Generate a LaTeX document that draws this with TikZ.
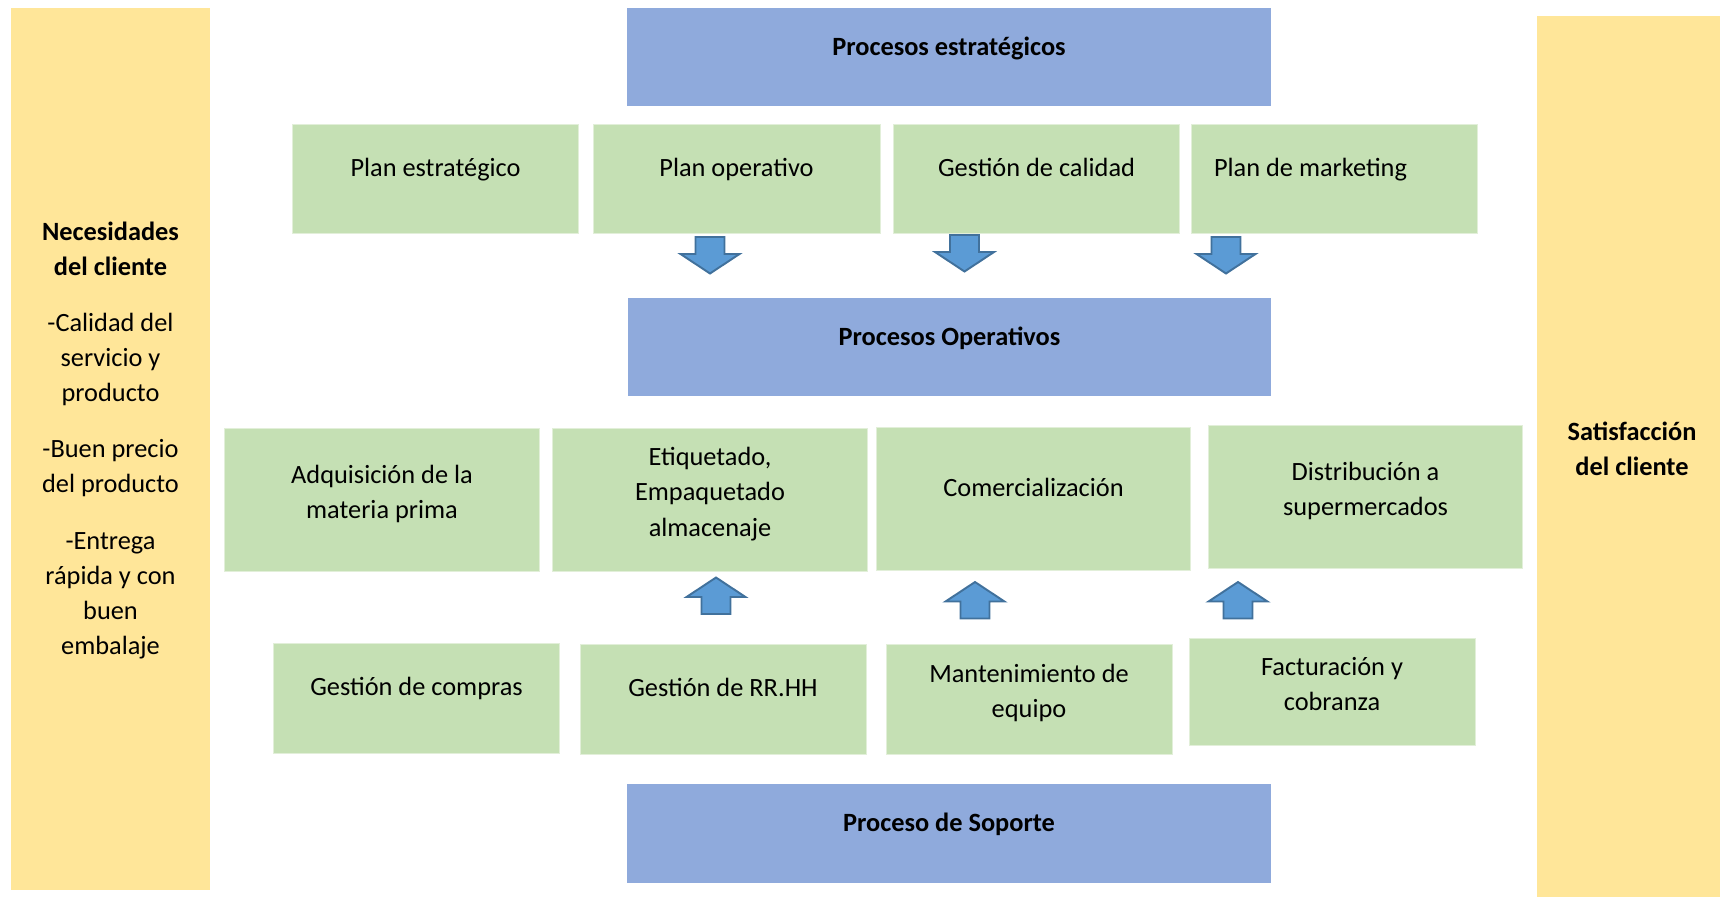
\documentclass[tikz,border=0pt]{standalone}
\usepackage{fontspec}
\setmainfont{Carlito}
\usepackage{xcolor}
\definecolor{StageBlue}{RGB}{143, 170, 220}
\definecolor{TaskGreen}{RGB}{197, 224, 180}
\definecolor{SideYellow}{RGB}{255, 230, 153}
\definecolor{ArrowFill}{RGB}{91, 155, 213}
\definecolor{ArrowEdge}{RGB}{65, 113, 156}
\usepackage{tikz}
\newcommand{\sinkdepth}{0.45cm}
\newcommand{\wdstrut}{\rule[-\sinkdepth]{0pt}{\sinkdepth}}

\begin{document}
\begin{tikzpicture}[
        x=0.02cm, y=-0.02cm,
        sink/.code={\def\sinkdepth{#1}},
        base/.style={rectangle, inner sep=0pt, align=center, font=\fontsize{15}{20}\selectfont, execute at end node=\wdstrut},
        stage/.style={base, fill=StageBlue, minimum width=12.88cm, minimum height=1.96cm, font=\fontsize{15}{20}\selectfont\bfseries},
        task/.style={base, fill=TaskGreen, draw=TaskGreen!50!white, line width=0.4pt, minimum width=5.72cm, minimum height=2.18cm},
        wide/.style={task, minimum width=6.29cm, minimum height=2.86cm},
        side/.style={base, fill=SideYellow},
        blockarrow/.style={fill=ArrowFill, draw=ArrowEdge, line width=1.1pt, line join=miter},
        downarrow/.pic={\draw[blockarrow] (-14.5,-18.5) -- (14.5,-18.5) -- (14.5,-1.5) -- (29.5,-1.5) -- (0,18) -- (-29.5,-1.5) -- (-14.5,-1.5) -- cycle;}
    ]
        \useasboundingbox (0,0) rectangle (1720,897);

        % Side panels
        \node[side, sink=0.44cm, minimum width=3.98cm, minimum height=17.64cm] (needs) at (110.5,449) {\textbf{Necesidades}\\\textbf{del cliente}\\[0.42cm]-Calidad del\\servicio y\\producto\\[0.42cm]-Buen precio\\del producto\\[0.42cm]-Entrega\\rápida y con\\buen\\embalaje};
        \node[side, sink=0.32cm, minimum width=3.8cm, minimum height=17.62cm] (satisf) at (1632,456.5) {\textbf{Satisfacción}\\\textbf{del cliente}};

        % Stages
        \node[stage] (strat) at (949,57) {Procesos estratégicos};
        \node[stage] (oper) at (949.5,347) {Procesos Operativos};
        \node[stage, minimum height=1.98cm] (support) at (949,833.5) {Proceso de Soporte};

        % Strategic tasks
        \node[task] (plan) at (435.5,178.5) {Plan estratégico};
        \node[task, minimum width=5.74cm] (operplan) at (736.5,178.5) {Plan operativo};
        \node[task] (quality) at (1036.5,178.5) {Gestión de calidad};
        \node[task, text width=4.82cm, inner xsep=0.44cm, align=flush left] (marketing) at (1334.5,178.5) {Plan de marketing};

        % Operative tasks
        \node[wide, sink=0.31cm] (supply) at (382,499.5) {Adquisición de la\\materia prima};
        \node[wide, sink=0.31cm] (packing) at (710,499.5) {Etiquetado,\\Empaquetado\\almacenaje};
        \node[wide] (sales) at (1033.5,498.5) {Comercialización};
        \node[wide, sink=0.31cm] (delivery) at (1365.5,497) {Distribución a\\supermercados};

        % Support tasks
        \node[task, minimum height=2.2cm] (purchase) at (416.5,698) {Gestión de compras};
        \node[task, minimum height=2.2cm] (staff) at (723,699) {Gestión de RR.HH};
        \node[task, sink=0.31cm, minimum height=2.2cm] (upkeep) at (1029,699) {Mantenimiento de\\equipo};
        \node[task, sink=0.31cm, minimum height=2.14cm] (billing) at (1332,691.5) {Facturación y\\cobranza};

        % Arrows
        \pic at (710,255.5) {downarrow};
        \pic at (964.5,253.5) {downarrow};
        \pic at (1226,255.5) {downarrow};
        \pic[rotate=180] at (716,595.5) {downarrow};
        \pic[rotate=180] at (975,600) {downarrow};
        \pic[rotate=180] at (1238,600) {downarrow};
    \end{tikzpicture}
\end{document}
